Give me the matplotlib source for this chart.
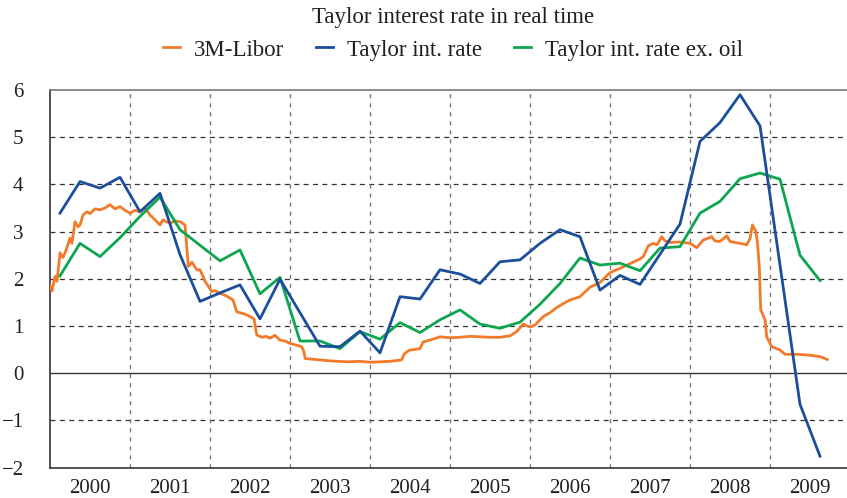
import numpy as np
import matplotlib
matplotlib.use("Agg")
import matplotlib.pyplot as plt

# ---- data ----
years = [2000, 2001, 2002, 2003, 2004, 2005, 2006, 2007, 2008, 2009]
y_ticks = [-2, -1, 0, 1, 2, 3, 4, 5, 6]

# quarterly Taylor-rate observations (mid-quarter)
taylor_t = list(np.arange(2000.125, 2009.7, 0.25))
taylor = [3.39, 4.06, 3.92, 4.15, 3.42, 3.81, 2.51, 1.52, 1.70, 1.87,
          1.15, 1.99, 1.28, 0.57, 0.56, 0.89, 0.43, 1.62, 1.57, 2.19,
          2.10, 1.90, 2.36, 2.40, 2.75, 3.04, 2.89, 1.76, 2.07, 1.88,
          2.52, 3.16, 4.91, 5.31, 5.90, 5.24, 2.29, -0.66, -1.76]
taylor_ex_oil = [2.06, 2.75, 2.47, 2.87, 3.32, 3.73, 3.04, 2.71, 2.38, 2.61,
                 1.68, 2.03, 0.68, 0.68, 0.52, 0.88, 0.72, 1.07, 0.86, 1.13,
                 1.34, 1.04, 0.95, 1.08, 1.46, 1.90, 2.44, 2.29, 2.33, 2.17,
                 2.65, 2.68, 3.39, 3.64, 4.12, 4.24, 4.11, 2.50, 1.96]

libor_t = [2000.000, 2000.025, 2000.063, 2000.088, 2000.125, 2000.163, 2000.200,
           2000.250, 2000.275, 2000.313, 2000.350, 2000.375, 2000.413, 2000.463,
           2000.500, 2000.563, 2000.625, 2000.688, 2000.750, 2000.813, 2000.875,
           2000.938, 2001.000, 2001.063, 2001.125, 2001.188, 2001.250, 2001.313,
           2001.375, 2001.413, 2001.450, 2001.500, 2001.563, 2001.625, 2001.688,
           2001.713, 2001.729, 2001.775, 2001.834, 2001.875, 2001.913, 2001.938,
           2001.975, 2002.021, 2002.063, 2002.125, 2002.188, 2002.250, 2002.288,
           2002.334, 2002.375, 2002.438, 2002.500, 2002.550, 2002.584, 2002.650,
           2002.700, 2002.750, 2002.813, 2002.875, 2002.938, 2003.000, 2003.063,
           2003.146, 2003.175, 2003.188, 2003.250, 2003.375, 2003.500, 2003.709,
           2003.875, 2004.000, 2004.125, 2004.250, 2004.396, 2004.425, 2004.459,
           2004.500, 2004.563, 2004.625, 2004.663, 2004.750, 2004.875, 2005.000,
           2005.125, 2005.250, 2005.375, 2005.500, 2005.625, 2005.750, 2005.834,
           2005.916, 2005.963, 2006.000, 2006.063, 2006.166, 2006.250, 2006.334,
           2006.413, 2006.500, 2006.625, 2006.750, 2006.875, 2007.000, 2007.125,
           2007.250, 2007.375, 2007.416, 2007.479, 2007.541, 2007.588, 2007.646,
           2007.688, 2007.750, 2007.875, 2008.000, 2008.084, 2008.166, 2008.271,
           2008.313, 2008.375, 2008.459, 2008.500, 2008.625, 2008.709, 2008.750,
           2008.781, 2008.825, 2008.844, 2008.866, 2008.884, 2008.938, 2008.959,
           2009.021, 2009.125, 2009.188, 2009.334, 2009.500, 2009.625, 2009.716]
libor = [1.87, 1.74, 2.05, 1.95, 2.55, 2.45, 2.60,
         2.86, 2.75, 3.21, 3.10, 3.14, 3.35, 3.42,
         3.38, 3.48, 3.46, 3.50, 3.57, 3.48, 3.53,
         3.45, 3.39, 3.45, 3.42, 3.50, 3.35, 3.25,
         3.14, 3.25, 3.21, 3.18, 3.22, 3.21, 3.14,
         2.60, 2.26, 2.35, 2.19, 2.19, 2.05, 1.94,
         1.85, 1.73, 1.75, 1.69, 1.65, 1.59, 1.55,
         1.30, 1.28, 1.25, 1.20, 1.15, 0.81, 0.76,
         0.78, 0.74, 0.80, 0.70, 0.68, 0.63, 0.60,
         0.56, 0.45, 0.31, 0.30, 0.28, 0.26, 0.24,
         0.25, 0.23, 0.24, 0.25, 0.28, 0.40, 0.45,
         0.49, 0.50, 0.52, 0.66, 0.70, 0.77, 0.75,
         0.76, 0.78, 0.77, 0.76, 0.76, 0.79, 0.88,
         1.04, 1.00, 0.98, 1.02, 1.20, 1.28, 1.39,
         1.47, 1.55, 1.62, 1.82, 1.92, 2.13, 2.22,
         2.32, 2.42, 2.47, 2.70, 2.75, 2.72, 2.89,
         2.80, 2.77, 2.78, 2.75, 2.66, 2.82, 2.89,
         2.80, 2.79, 2.91, 2.79, 2.75, 2.72, 2.85,
         3.14, 3.00, 2.75, 2.26, 1.34, 1.13, 0.77,
         0.56, 0.49, 0.40, 0.40, 0.38, 0.35, 0.29]

title = "Taylor interest rate in real time"
labels = ["3M-Libor", "Taylor int. rate", "Taylor int. rate ex. oil"]
colors = ["#F37A2A", "#1B4F9C", "#0BA64F"]

# ---- figure ----
plt.rcParams['font.family'] = ['Liberation Serif', 'DejaVu Serif']
fig = plt.figure(figsize=(8.47, 4.98), dpi=100)
ax = fig.add_axes([50 / 847, (498 - 467.5) / 498, 797 / 847, (467.5 - 90) / 498])

ax.plot(libor_t, libor, color=colors[0], lw=2.0, label=labels[0], zorder=3)
ax.plot(taylor_t, taylor, color=colors[1], lw=2.0, label=labels[1], zorder=4)
ax.plot(taylor_t, taylor_ex_oil, color=colors[2], lw=2.0, label=labels[2], zorder=3)

ax.set_xlim(2000, 2000 + 797 / 80)
ax.set_ylim(-2, 6)

# grid
for yv in y_ticks:
    if yv in (-2, 6):
        continue
    if yv == 0:
        ax.axhline(0, color="#333333", lw=1.0, zorder=2)
    else:
        ax.axhline(yv, color="#333333", lw=0.9, ls=(0, (4, 3.5)), zorder=1)
for yr in years[1:]:
    ax.axvline(yr, color="#7a7a7a", lw=1.0, ls=(0, (3, 3.5)), zorder=1)

ax.set_yticks(y_ticks)
ax.set_yticklabels([str(v).replace("-", "\u2212") for v in y_ticks])
ax.set_xticks([y + 0.5 for y in years])
ax.set_xticklabels([str(y) for y in years])
ax.tick_params(axis="both", length=0, labelsize=15, colors="#231f20")
ax.tick_params(axis="y", pad=19)
ax.tick_params(axis="x", pad=8)

for s in ["left", "bottom"]:
    ax.spines[s].set_color("#333333")
    ax.spines[s].set_linewidth(1.2)
ax.spines["top"].set_color("#777777")
ax.spines["top"].set_linewidth(1.2)
ax.spines["right"].set_visible(False)

fig.text(453 / 847, 1 - 18 / 498, title, ha="center", va="center", fontsize=16.5, color="#231f20")
fig.legend(loc="center", bbox_to_anchor=(453 / 847, 1 - 50 / 498), ncol=3, frameon=False,
           fontsize=16.5, handlelength=0.75, columnspacing=1.4, handletextpad=0.6,
           labelcolor="#231f20")

fig.savefig("out.png", dpi=100)
